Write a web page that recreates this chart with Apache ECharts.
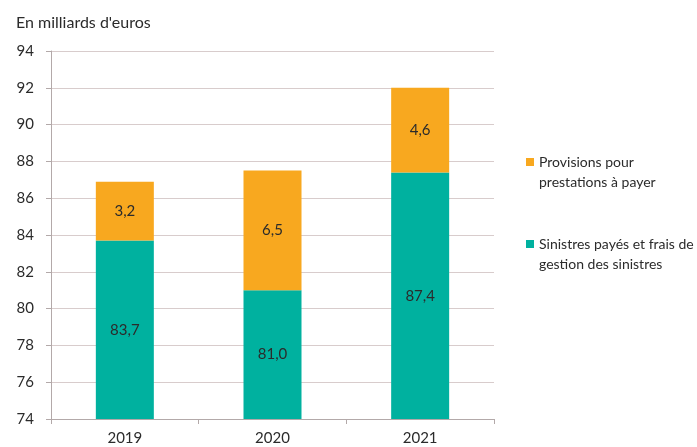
<!DOCTYPE html>
<html>
<head>
<meta charset="utf-8">
<script src="https://cdn.jsdelivr.net/npm/echarts@6/dist/echarts.min.js"></script>
<style>
  html, body { margin: 0; padding: 0; background: #fff; }
  #chart { width: 697px; height: 447px; }
</style>
</head>
<body>
<div id="chart"></div>
<script>
// Annual claims cost, billions of euros
const years = ['2019', '2020', '2021'];
const sinistres = [83.7, 81.0, 87.4];
const provisions = [3.2, 6.5, 4.6];
const nameSinistres = 'Sinistres payés et frais de\ngestion des sinistres';
const nameProvisions = 'Provisions pour\nprestations à payer';

const font = 'Lato, "Open Sans", sans-serif';
const textColor = '#2b2b2b';
const fmt = p => p.value.toFixed(1).replace('.', ',');
// legend marker: a square beside the first text line (invisible specks stretch the box to two lines)
const legendIcon = 'path://M0 0H0.01V0.01H0Z M0 6H8V14H0Z M0 39.99H0.01V40H0Z';

const chart = echarts.init(document.getElementById('chart'), null, { renderer: 'canvas' });
chart.setOption({
  animation: false,
  textStyle: { fontFamily: font },
  title: {
    text: "En milliards d'euros",
    left: 11, top: 10,
    textStyle: { fontSize: 16, fontWeight: 'normal', color: textColor, fontFamily: font }
  },
  grid: { left: 51, right: 203, top: 51, bottom: 28, containLabel: false },
  legend: {
    orient: 'vertical',
    left: 521, top: 147,
    itemWidth: 8, itemHeight: 40,
    itemGap: 42,
    icon: legendIcon,
    data: [nameProvisions, nameSinistres],
    textStyle: { fontSize: 14, color: textColor, lineHeight: 20, fontFamily: font }
  },
  xAxis: {
    type: 'category',
    data: years,
    axisLine: { lineStyle: { color: '#b3a9a9' } },
    axisTick: { show: true, alignWithLabel: false, length: 5, lineStyle: { color: '#b3a9a9' } },
    axisLabel: { fontSize: 15, color: textColor, margin: 12, fontFamily: font }
  },
  yAxis: {
    type: 'value',
    min: 74, max: 94, interval: 2,
    axisLine: { show: true, lineStyle: { color: '#b3a9a9' } },
    axisTick: { show: true, length: 5, lineStyle: { color: '#b3a9a9' } },
    splitLine: { lineStyle: { color: '#d8cccc' } },
    axisLabel: { fontSize: 15, color: textColor, margin: 17, fontFamily: font }
  },
  series: [
    {
      name: nameSinistres,
      type: 'bar',
      stack: 'total',
      data: sinistres,
      barWidth: 58,
      itemStyle: { color: '#00b19f' },
      label: { show: true, position: 'inside', formatter: fmt, fontSize: 15, color: textColor, fontFamily: font }
    },
    {
      name: nameProvisions,
      type: 'bar',
      stack: 'total',
      data: provisions,
      barWidth: 58,
      itemStyle: { color: '#f8a81f' },
      label: { show: true, position: 'inside', formatter: fmt, fontSize: 15, color: textColor, fontFamily: font }
    }
  ]
});
</script>
</body>
</html>
